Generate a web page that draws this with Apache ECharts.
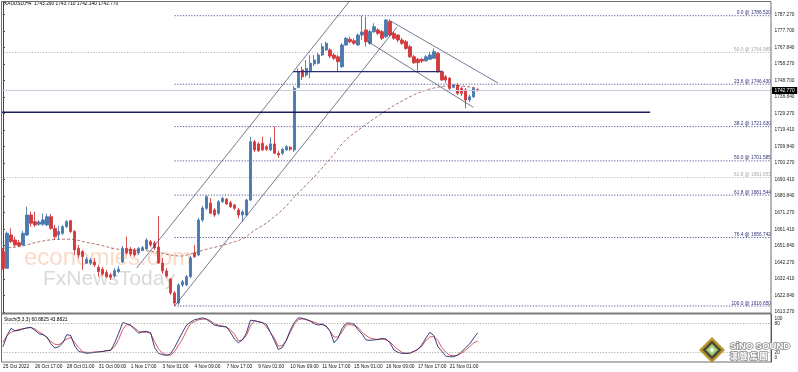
<!DOCTYPE html>
<html><head><meta charset="utf-8">
<script src="https://cdn.jsdelivr.net/npm/echarts@6/dist/echarts.min.js"></script>
<style>html,body{margin:0;padding:0;background:#fff}#c{width:798px;height:372px}</style>
</head><body><div id="c"></div>
<script>
const opens = [
1648.5,1638.7,1658.2,1655.3,1653.7,1652.4,1658.2,1669.9,1666.0,1664.5,
1664.5,1664.1,1668.9,1662.1,1658.2,1659.2,1663.1,1666.6,1660.2,1650.4,
1648.5,1641.7,1641.7,1642.4,1639.3,1638.2,1636.2,1634.8,1634.2,1636.8,
1642.4,1650.4,1650.0,1649.5,1647.7,1649.5,1650.0,1654.3,1653.5,1651.2,
1641.8,1637.2,1632.5,1624.3,1618.4,1629.0,1629.0,1633.8,1647.7,1646.5,
1667.0,1673.8,1676.9,1672.9,1670.9,1677.7,1679.1,1677.1,1675.8,1672.9,
1669.9,1669.9,1678.7,1712.8,1711.5,1711.9,1709.9,1708.0,1711.5,1706.0,
1706.0,1708.0,1709.5,1708.0,1744.6,1754.8,1751.8,1753.8,1758.3,1758.7,
1763.5,1766.5,1766.5,1763.5,1762.5,1756.7,1769.4,1772.7,1771.9,1769.4,
1775.2,1778.2,1770.4,1777.2,1778.2,1777.2,1774.2,1783.0,1776.2,1775.2,
1772.3,1771.3,1768.4,1762.5,1761.0,1761.0,1760.2,1761.0,1761.6,1764.5,
1753.8,1750.8,1749.9,1744.6,1746.0,1744.0,1743.1,1737.2,1739.1,1743.29];
const closes = [
1638.7,1659.2,1654.3,1652.4,1652.0,1659.2,1669.9,1665.1,1664.1,1665.8,
1667.0,1668.9,1662.1,1657.2,1660.2,1663.1,1666.0,1660.2,1649.5,1646.5,
1645.5,1644.0,1643.6,1640.7,1636.8,1635.4,1633.8,1633.5,1637.3,1638.2,
1650.4,1647.7,1647.1,1646.5,1650.4,1650.8,1655.3,1652.4,1650.6,1641.8,
1637.2,1634.2,1624.3,1618.4,1629.0,1630.9,1633.8,1644.8,1645.5,1667.0,
1674.0,1680.6,1670.9,1669.9,1677.7,1679.7,1676.4,1674.8,1673.8,1669.9,
1671.7,1678.7,1712.8,1708.0,1707.5,1708.0,1708.4,1711.5,1706.0,1705.0,
1708.4,1709.9,1708.4,1744.0,1753.8,1750.8,1755.7,1758.7,1760.6,1763.5,
1768.4,1770.4,1762.9,1761.6,1759.6,1769.4,1773.3,1771.3,1770.4,1775.2,
1777.0,1771.3,1777.2,1780.1,1776.2,1773.3,1784.0,1775.2,1773.3,1772.3,
1770.4,1767.4,1762.5,1759.0,1759.0,1760.0,1762.5,1763.5,1765.5,1753.8,
1748.9,1748.9,1744.0,1746.0,1741.1,1741.1,1737.2,1739.1,1744.0,1742.77];
const highs = [
1650.6,1660.2,1662.1,1657.2,1655.3,1660.6,1674.8,1671.9,1671.9,1667.0,
1670.9,1670.5,1670.5,1664.1,1663.5,1664.1,1667.0,1667.0,1661.2,1652.4,
1649.5,1645.4,1644.8,1644.8,1640.7,1639.5,1637.8,1636.0,1638.9,1640.1,
1651.8,1657.2,1651.2,1650.6,1651.2,1651.8,1656.3,1655.3,1654.7,1669.3,
1644.8,1638.9,1633.1,1625.5,1630.0,1631.9,1634.8,1645.9,1652.4,1668.2,
1675.2,1681.6,1679.9,1674.0,1678.7,1680.6,1679.9,1678.1,1676.4,1674.0,
1672.9,1679.3,1715.7,1713.8,1712.6,1715.7,1710.9,1715.4,1721.6,1707.4,
1709.1,1710.9,1710.3,1745.4,1755.7,1756.7,1760.6,1763.5,1763.5,1764.7,
1770.4,1771.3,1767.4,1764.7,1763.5,1770.5,1774.2,1774.2,1773.3,1776.2,
1786.52,1785.9,1778.2,1782.1,1779.3,1778.2,1784.4,1784.4,1777.0,1775.8,
1773.5,1772.3,1769.4,1763.5,1761.8,1761.8,1763.5,1765.3,1767.4,1765.3,
1754.8,1751.8,1750.7,1746.6,1747.0,1745.0,1744.2,1740.1,1745.0,1743.71];
const lows = [
1637.8,1638.3,1653.5,1651.4,1651.2,1651.8,1657.6,1663.1,1662.9,1663.5,
1663.5,1663.5,1661.2,1655.3,1655.3,1658.2,1662.3,1659.4,1646.5,1644.8,
1637.8,1641.3,1640.7,1639.5,1633.8,1634.2,1633.1,1631.9,1633.1,1636.0,
1641.8,1646.5,1645.9,1645.4,1646.5,1648.9,1649.5,1651.2,1649.5,1641.3,
1635.4,1633.1,1623.1,1616.65,1617.3,1627.8,1628.4,1633.1,1644.8,1645.9,
1665.8,1672.9,1670.5,1668.8,1669.9,1676.9,1675.8,1674.0,1672.9,1668.0,
1666.0,1669.3,1678.1,1706.8,1706.8,1707.4,1707.4,1707.4,1705.6,1703.3,
1705.0,1707.4,1707.4,1706.8,1743.9,1748.9,1750.7,1749.9,1757.1,1758.0,
1762.9,1765.9,1761.6,1760.6,1753.8,1755.9,1768.8,1770.4,1769.4,1768.8,
1772.3,1768.4,1769.4,1776.4,1775.2,1772.3,1773.5,1774.6,1772.3,1771.1,
1769.4,1766.5,1761.8,1758.3,1753.8,1758.8,1759.4,1760.6,1761.2,1753.0,
1748.3,1747.0,1743.1,1744.2,1740.1,1739.5,1732.3,1736.0,1738.4,1742.14];
const maValues = [
1650.4,1650.7,1650.9,1651.1,1651.4,1651.8,1652.4,1653.1,1653.7,1654.2,
1654.7,1655.1,1655.4,1655.6,1655.7,1655.8,1655.8,1655.7,1655.4,1655.0,
1654.4,1653.9,1653.4,1653.0,1652.5,1651.9,1651.3,1650.7,1650.2,1649.8,
1649.6,1649.5,1649.5,1649.3,1649.2,1649.1,1649.0,1648.8,1648.4,1648.1,
1647.5,1646.9,1646.5,1646.2,1645.9,1645.9,1646.4,1647.1,1647.8,1648.5,
1649.2,1649.9,1650.5,1651.0,1651.6,1652.1,1652.8,1653.5,1654.2,1655.0,
1655.9,1657.2,1659.1,1660.9,1662.3,1663.7,1665.1,1667.0,1668.9,1670.8,
1672.9,1675.2,1677.8,1680.5,1682.8,1685.1,1687.5,1689.8,1692.2,1694.8,
1697.4,1700.2,1702.9,1705.7,1708.7,1711.6,1714.1,1716.0,1717.8,1719.5,
1721.2,1722.9,1724.6,1726.3,1727.8,1729.4,1731.0,1732.5,1734.0,1735.3,
1736.6,1737.9,1739.1,1740.2,1741.3,1742.2,1742.9,1743.6,1744.2,1744.7,
1745.1,1745.4,1745.7,1745.7,1745.6,1745.4,1745.1,1744.8,1744.3,1744.0];
const stochMain = [
32,55,70,65,66,69,71,72,66,59, 57,52,38,29,32,40,57,55,33,22,
20,18,19,20,21,22,24,24,40,60, 82,80,77,68,60,63,64,61,30,18,
15,14,17,30,46,62,77,83,88,90, 92,89,83,77,75,74,73,62,48,40,
46,60,87,86,84,82,79,62,45,26, 30,45,66,82,92,91,89,85,80,77,
79,75,64,40,50,70,81,81,79,67, 58,46,45,46,47,49,48,40,25,20,
18,18,19,22,26,36,50,62,55,32, 22,12,11,11,15,22,30,38,50,60.88];
const stochSignal = [
41,55,62,65,68,69,71,72,69,63, 58,51,43,37,36,42,48,51,40,30,
21,20,20,21,21,22,23,25,32,47, 68,78,76,71,64,62,62,60,42,27,
18,15,14,22,35,48,65,80,84,88, 89,90,86,80,77,75,73,67,58,44,
46,55,75,86,84,82,74,62,50,33, 34,45,62,78,88,90,88,86,83,80,
78,74,64,52,52,63,77,78,76,72, 62,55,50,48,47,48,46,42,33,26,
20,18,18,22,27,33,45,52,53,45, 30,20,14,13,14,19,25,32,40,43.88];
const dateLabels = ['25 Oct 2022','26 Oct 17:00','28 Oct 01:00','31 Oct 09:00','1 Nov 17:00','3 Nov 01:00','4 Nov 09:00','7 Nov 17:00','9 Nov 01:00','10 Nov 09:00','11 Nov 17:00','15 Nov 01:00','16 Nov 09:00','17 Nov 17:00','21 Nov 01:00'];
const priceTicks = ['1613.270','1622.840','1632.410','1642.270','1651.840','1661.410','1671.270','1680.840','1690.410','1700.270','1709.840','1719.410','1729.270','1738.840','1748.700','1758.270','1767.840','1777.700','1787.270'];
const fibRatios = ['0.0','23.6','38.2','50.0','61.8','76.4','100.0'];
const fibPrices = [1786.520,1746.430,1721.630,1701.585,1681.544,1656.742,1616.650];
const greyFibRatios = ['50.0','61.8'];
const greyFibPrices = [1764.985,1691.853];
const fibStartBar = 43;
const upChannelLow = [[43,1616.65],[98.7,1779.7]];
const upChannelHigh = [[33.5,1638.9],[92,1810.1]];
const downChannelHigh = [[97.0,1783.6],[124.1,1747.1]];
const downChannelLow = [[91.5,1771.3],[117.9,1732.9]];
const supportLine = [[-0.5,1730.0],[162.2,1730.0]];
const shortLine = [[72.7,1753.8],[109.8,1753.8]];
const stochLevels = [80,20];
const titleText = 'XAUUSD,H4  1743.290 1743.710 1742.140 1742.770';
const stochText = 'Stoch(5,3,3) 60.8825 43.8821';

const FONT = '"Liberation Sans", Arial, sans-serif';
const FS = 4.8;
const N_SLOTS = 193;
const cats = Array.from({length: N_SLOTS}, (_, i) => 'b' + i);
const yMin = Number(priceTicks[0]);
const tickStep = (Number(priceTicks[priceTicks.length - 1]) - yMin) / (priceTicks.length - 1);
const yMax = 1794.54;
const lastClose = closes[closes.length - 1];
const candleData = opens.map((o, i) => [o, closes[i], lows[i], highs[i]]);

const BULL = '#4a7aae', BEAR = '#d43a3d';
const series = [];
series.push({
  type: 'candlestick', xAxisIndex: 0, yAxisIndex: 0, data: candleData, barWidth: 2.8, z: 4,
  itemStyle: {color: BULL, color0: BEAR, borderColor: BULL, borderColor0: BEAR, borderWidth: 0.9},
  markLine: {silent: true, symbol: ['none','none'], animation: false,
    data: [{yAxis: lastClose}],
    lineStyle: {color: '#c6cfe0', width: 1, type: 'solid'},
    label: {show: true, position: 'end', distance: 1, formatter: lastClose.toFixed(3),
      backgroundColor: '#000', color: '#fff', fontSize: FS, fontFamily: FONT, padding: [1.2, 2.6, 0.8, 2.6]}}
});
series.push({type: 'line', xAxisIndex: 0, yAxisIndex: 0, data: maValues, symbol: 'none', z: 3,
  lineStyle: {color: '#9c4c42', width: 0.8, type: [3, 2]}});
function levelLine(ratio, price, color, start) {
  return {type: 'line', xAxisIndex: 1, yAxisIndex: 0, symbol: 'none', z: 2, silent: true,
    data: [[start, price], [192.5, price]],
    lineStyle: {color: color, width: 0.8, type: [1.2, 1.6]},
    endLabel: {show: true, formatter: ratio + ' @ ' + price.toFixed(3), align: 'right', verticalAlign: 'bottom',
      distance: 0, offset: [0, -0.2], fontSize: FS, fontFamily: FONT, color: color}};
}
fibRatios.forEach((r, k) => series.push(levelLine(r, fibPrices[k], '#2e2e78', fibStartBar)));
greyFibRatios.forEach((r, k) => series.push(levelLine(r, greyFibPrices[k], '#a8a8a8', -0.5)));
function trend(data, color, width) {
  return {type: 'line', xAxisIndex: 1, yAxisIndex: 0, symbol: 'none', z: 5, silent: true, clip: true,
    data: data, lineStyle: {color: color, width: width}};
}
series.push(trend(upChannelLow, '#3c3c66', 0.7));
series.push(trend(upChannelHigh, '#3c3c66', 0.7));
series.push(trend(downChannelHigh, '#3c3c66', 0.7));
series.push(trend(downChannelLow, '#3c3c66', 0.7));
series.push(trend(supportLine, '#1b1f5c', 1.4));
series.push(trend(shortLine, '#2a2e70', 1.4));
series.push({type: 'line', xAxisIndex: 2, yAxisIndex: 1, data: stochMain, symbol: 'none', z: 4,
  lineStyle: {color: '#1f2a72', width: 0.9},
  markLine: {silent: true, symbol: ['none','none'], label: {show: false},
    lineStyle: {color: '#9a9a9a', width: 0.8, type: [1.2, 1.6]},
    data: stochLevels.map(v => ({yAxis: v}))}});
series.push({type: 'line', xAxisIndex: 2, yAxisIndex: 1, data: stochSignal, symbol: 'none', z: 3,
  lineStyle: {color: '#d9454c', width: 0.9}});

const option = {
  animation: false,
  backgroundColor: '#ffffff',
  textStyle: {fontFamily: FONT},
  title: [
    {text: titleText, left: 4, top: 1.5, padding: 0, textStyle: {fontSize: FS, fontWeight: 'normal', color: '#000', fontFamily: FONT}},
    {text: stochText, left: 4, top: 317, padding: 0, textStyle: {fontSize: FS, fontWeight: 'normal', color: '#000', fontFamily: FONT}}
  ],
  grid: [
    {left: 1, top: 2, width: 770, height: 309.8, outerBoundsMode: 'none', containLabel: false},
    {left: 1, top: 314, width: 770, height: 48, outerBoundsMode: 'none', containLabel: false}
  ],
  xAxis: [
    {type: 'category', gridIndex: 0, data: cats, boundaryGap: true, show: false},
    {type: 'value', gridIndex: 0, min: -0.5, max: 192.5, show: false},
    {type: 'category', gridIndex: 1, data: cats, boundaryGap: true,
      axisLine: {show: false}, axisTick: {show: false}, splitLine: {show: false},
      axisLabel: {interval: 7, align: 'left', margin: 2.2, fontSize: FS, color: '#111', fontFamily: FONT,
        formatter: (v, idx) => (idx % 8 === 0 && dateLabels[idx / 8]) ? dateLabels[idx / 8] : ''}}
  ],
  yAxis: [
    {type: 'value', gridIndex: 0, position: 'right', min: yMin, max: yMax, interval: tickStep,
      axisLine: {show: true, lineStyle: {color: '#444', width: 1}},
      axisTick: {show: true, length: 2, lineStyle: {color: '#444'}},
      splitLine: {show: false},
      axisLabel: {fontSize: FS, color: '#222', margin: 3.5, fontFamily: FONT, showMaxLabel: true, showMinLabel: true,
        formatter: (v) => {const k = Math.round((v - yMin) / tickStep);
          return (Math.abs(v - (yMin + k * tickStep)) < 0.01 && priceTicks[k]) ? priceTicks[k] : '';}}},
    {type: 'value', gridIndex: 1, position: 'right', min: 0, max: 100, interval: 20,
      axisLine: {show: true, lineStyle: {color: '#444', width: 1}},
      axisTick: {show: false}, splitLine: {show: false},
      axisLabel: {fontSize: FS, color: '#222', margin: 3.5, fontFamily: FONT,
        formatter: (v) => v === 100 ? '{d|100}' : v === 0 ? '{u|0}' : (v === 80 || v === 20) ? String(v) : '',
        rich: {d: {fontSize: FS, padding: [9, 0, 0, 0]}, u: {fontSize: FS, padding: [0, 0, 8, 0]}}}}
  ],
  graphic: [
    {type: 'text', z: 0, silent: true, x: 24, y: 246, style: {text: 'economies.com', fill: 'rgba(244,168,120,0.42)', font: '24px "Liberation Sans", Arial', verticalAlign: 'top'}},
    {type: 'text', z: 0, silent: true, x: 43, y: 269, style: {text: 'FxNewsToday', fill: 'rgba(150,150,150,0.36)', font: '21px "Liberation Sans", Arial', verticalAlign: 'top'}},
    {type: 'rect', z: 100, silent: true, shape: {x: 1.5, y: 1.5, width: 769.5, height: 360.5}, style: {fill: 'none', stroke: '#6e6e6e', lineWidth: 1}},
    {type: 'line', z: 100, silent: true, shape: {x1: 1.5, y1: 313.5, x2: 771, y2: 313.5}, style: {stroke: '#7a7a7a', lineWidth: 2}},
    {type: 'polygon', z: 101, silent: true, shape: {points: [[712,337],[725,350],[712,363],[699,350]]}, style: {fill: '#b8952c'}},
    {type: 'polygon', z: 102, silent: true, shape: {points: [[712,340.5],[721.5,350],[712,359.5],[702.5,350]]}, style: {fill: '#4b4a36'}},
    {type: 'polygon', z: 103, silent: true, shape: {points: [[712,344],[718,350],[712,356],[706,350]]}, style: {fill: '#a9cf7c'}},
    {type: 'polygon', z: 104, silent: true, shape: {points: [[712,347.5],[714.5,350],[712,352.5],[709.5,350]]}, style: {fill: '#f4f8ec'}},
    {type: 'text', z: 105, silent: true, x: 730, y: 341, style: {text: 'SiNO SOUND', fill: '#ffffff', stroke: '#8c8c8c', lineWidth: 1.6, font: 'bold 9.5px "Liberation Sans", Arial', verticalAlign: 'top'}},
    {type: 'text', z: 105, silent: true, x: 730, y: 351.5, style: {text: '漢 聲 集 團', fill: '#ffffff', stroke: '#8c8c8c', lineWidth: 1.6, font: 'bold 8px "Noto Sans CJK TC"', verticalAlign: 'top'}}
  ],
  series: series
};
const chart = echarts.init(document.getElementById('c'), null, {renderer: 'canvas', width: 798, height: 372});
chart.setOption(option);
</script>
</body></html>
